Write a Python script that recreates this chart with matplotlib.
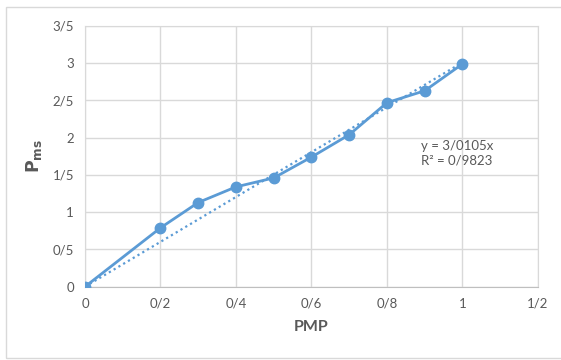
import numpy as np
import matplotlib.pyplot as plt

# datos
pmp = [0, 0.2, 0.3, 0.4, 0.5, 0.6, 0.7, 0.8, 0.9, 1.0]
pms = [0, 0.79, 1.13, 1.34, 1.46, 1.74, 2.04, 2.47, 2.63, 2.99]
slope = 3.0105
r2_text = "0/9823"

x_ticks = [0, 0.2, 0.4, 0.6, 0.8, 1.0, 1.2]
x_labels = ["0", "0/2", "0/4", "0/6", "0/8", "1", "1/2"]
y_ticks = [0, 0.5, 1, 1.5, 2, 2.5, 3, 3.5]
y_labels = ["0", "0/5", "1", "1/5", "2", "2/5", "3", "3/5"]

plt.rcParams['font.family'] = ['Lato', 'DejaVu Sans']
blue = '#5B9BD5'
grey_txt = '#595959'

fig = plt.figure(figsize=(5.61, 3.6), dpi=100)
# marco del grafico
fig.patches.append(plt.Rectangle((6 / 561, 2 / 360), 1.2, (360 - 9) / 360,
                                 transform=fig.transFigure, fill=False,
                                 edgecolor='#D9D9D9', linewidth=1))
ax = fig.add_axes([0.1515, 0.2036, 0.8075, 0.7244])

# linea de tendencia
xt = np.array([pmp[0], pmp[-1]])
ax.plot(xt, slope * xt, linestyle=(0, (1, 1.5)), color=blue, linewidth=1.6, zorder=3)
ax.plot(pmp, pms, color=blue, linewidth=2, marker='o', markersize=7.5, zorder=4)

ax.set_xlim(0, 1.2)
ax.set_ylim(0, 3.5)
ax.set_xticks(x_ticks, x_labels)
ax.set_yticks(y_ticks, y_labels)
ax.tick_params(length=0, labelsize=9.5, labelcolor=grey_txt, pad=8)
ax.grid(True, color='#D9D9D9', linewidth=1)
ax.set_axisbelow(True)
for s in ax.spines.values():
    s.set_color('#D9D9D9')
ax.spines['bottom'].set_color('#BFBFBF')

ax.set_xlabel('PMP', fontsize=11.5, fontweight='bold', color=grey_txt, labelpad=7)
ax.set_ylabel(r'$\mathbf{P_{ms}}$', fontsize=12.5, color=grey_txt, labelpad=6)

ax.text(0.89, 1.97, "y = 3/0105x\nR\u00b2 = " + r2_text, fontsize=9.5,
        color=grey_txt, va='top', ha='left', linespacing=1.25)

fig.savefig('out.png', dpi=100)
